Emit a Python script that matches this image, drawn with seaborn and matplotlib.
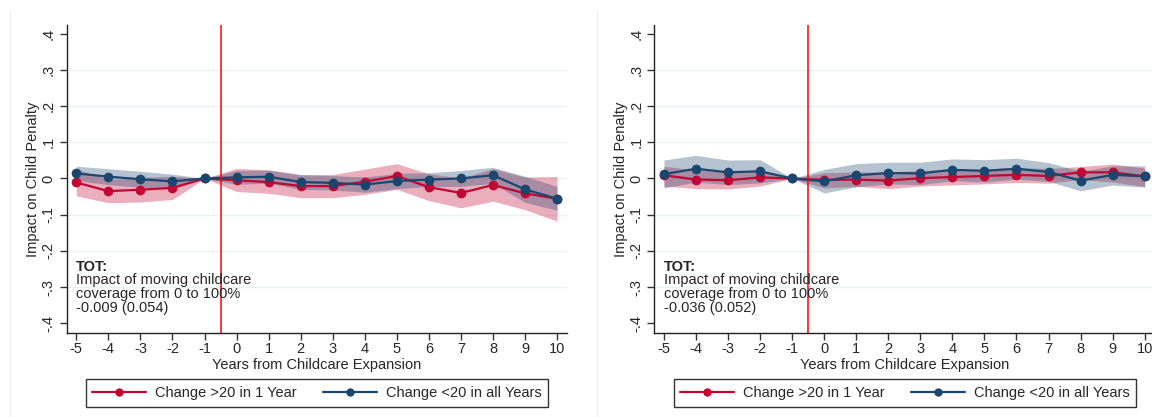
import numpy as np
import pandas as pd
import seaborn as sns
import matplotlib.pyplot as plt
from matplotlib.lines import Line2D

# %% data
years = list(range(-5, 11))
groups = ['Change >20 in 1 Year', 'Change <20 in all Years']

# left panel
left_red = [-0.011, -0.035, -0.031, -0.026, 0, -0.005, -0.010, -0.021, -0.021, -0.009, 0.007, -0.024, -0.040, -0.018, -0.041, -0.056]
left_red_lo = [-0.048, -0.067, -0.065, -0.058, 0, -0.036, -0.041, -0.053, -0.053, -0.044, -0.030, -0.061, -0.081, -0.063, -0.086, -0.118]
left_red_hi = [0.026, -0.003, 0.003, 0.006, 0, 0.028, 0.024, 0.011, 0.011, 0.026, 0.041, 0.013, 0.001, 0.027, 0.004, 0.005]
left_blue = [0.014, 0.005, -0.002, -0.008, 0, 0.003, 0.005, -0.010, -0.012, -0.017, -0.007, -0.003, 0.000, 0.009, -0.030, -0.056]
left_blue_lo = [-0.006, -0.017, -0.024, -0.028, 0, -0.016, -0.013, -0.030, -0.032, -0.038, -0.028, -0.022, -0.022, -0.013, -0.066, -0.088]
left_blue_hi = [0.034, 0.027, 0.020, 0.012, 0, 0.022, 0.023, 0.010, 0.008, 0.004, 0.014, 0.016, 0.022, 0.031, 0.006, -0.022]
left_tot = '-0.009 (0.054)'

# right panel
right_red = [0.009, -0.003, -0.005, 0.003, 0, -0.004, -0.003, -0.006, 0.001, 0.004, 0.007, 0.010, 0.007, 0.017, 0.017, 0.006]
right_red_lo = [-0.021, -0.028, -0.029, -0.021, 0, -0.026, -0.022, -0.028, -0.021, -0.018, -0.015, -0.011, -0.013, -0.003, -0.010, -0.022]
right_red_hi = [0.034, 0.023, 0.020, 0.023, 0, 0.016, 0.018, 0.018, 0.022, 0.025, 0.027, 0.030, 0.028, 0.033, 0.040, 0.029]
right_blue = [0.012, 0.027, 0.017, 0.020, 0, -0.008, 0.009, 0.015, 0.014, 0.024, 0.021, 0.027, 0.018, -0.006, 0.010, 0.006]
right_blue_lo = [-0.026, -0.010, -0.017, -0.012, 0, -0.040, -0.023, -0.015, -0.017, -0.006, -0.010, -0.002, -0.008, -0.034, -0.018, -0.024]
right_blue_hi = [0.051, 0.064, 0.051, 0.052, 0, 0.025, 0.041, 0.045, 0.045, 0.054, 0.052, 0.056, 0.044, 0.020, 0.035, 0.035]
right_tot = '-0.036 (0.052)'

yticks = [-0.4, -0.3, -0.2, -0.1, 0, 0.1, 0.2, 0.3, 0.4]
ytick_labels = ['-.4', '-.3', '-.2', '-.1', '0', '.1', '.2', '.3', '.4']

# %% style
sns.set_style('white')
plt.rcParams['font.family'] = ['Liberation Sans', 'DejaVu Sans']
RED = '#c10534'
BLUE = '#1a476f'
palette = {groups[0]: RED, groups[1]: BLUE}
FS = 10.5

fig = plt.figure(figsize=(11.52, 4.17), dpi=100)
ax_l = fig.add_axes([0.0579, 0.2022, 0.434, 0.7378])
ax_r = fig.add_axes([0.568, 0.2022, 0.434, 0.7378])


def draw_panel(ax, red, red_lo, red_hi, blue, blue_lo, blue_hi, tot):
    ax.fill_between(years, red_lo, red_hi, color=RED, alpha=0.32, lw=0)
    ax.fill_between(years, blue_lo, blue_hi, color=BLUE, alpha=0.32, lw=0)
    df = pd.DataFrame({'year': years * 2,
                       'est': red + blue,
                       'group': [groups[0]] * len(years) + [groups[1]] * len(years)})
    sns.lineplot(data=df, x='year', y='est', hue='group', hue_order=groups,
                 palette=palette, marker='o', markersize=7, markeredgewidth=0,
                 linewidth=1.6, errorbar=None, legend=False, ax=ax)
    ax.axvline(-0.5, color='red', lw=1.1)
    ax.set_xlim(-5.3, 10.3)
    ax.set_ylim(-0.426, 0.424)
    ax.set_xticks(years)
    ax.set_xticklabels([str(y) for y in years], fontsize=FS)
    ax.set_yticks(yticks)
    ax.set_yticklabels(ytick_labels, fontsize=FS, rotation=90, va='center')
    for v in yticks[1:-1]:
        ax.axhline(v, color='#eaf2f3', lw=1, zorder=0)
    ax.tick_params(axis='both', direction='out', length=5, width=1, color='#333333',
                   left=True, bottom=True)
    ax.tick_params(axis='y', pad=3)
    ax.tick_params(axis='x', pad=2)
    for s in ['top', 'right']:
        ax.spines[s].set_visible(False)
    for s in ['left', 'bottom']:
        ax.spines[s].set_color('#222222')
        ax.spines[s].set_linewidth(1)
    ax.set_xlabel('Years from Childcare Expansion', fontsize=FS, labelpad=1)
    ax.set_ylabel('Impact on Child Penalty', fontsize=FS, labelpad=1)
    ax.text(-5, -0.224, 'TOT:', fontsize=FS, fontweight='bold', va='top', ha='left')
    ax.text(-5, -0.262, 'Impact of moving childcare\ncoverage from 0 to 100%\n' + tot,
            fontsize=FS, va='top', ha='left', linespacing=1.0)


draw_panel(ax_l, left_red, left_red_lo, left_red_hi,
           left_blue, left_blue_lo, left_blue_hi, left_tot)
draw_panel(ax_r, right_red, right_red_lo, right_red_hi,
           right_blue, right_blue_lo, right_blue_hi, right_tot)

handles = [Line2D([], [], color=RED, marker='o', markersize=6, lw=1.6, markeredgewidth=0),
           Line2D([], [], color=BLUE, marker='o', markersize=6, lw=1.6, markeredgewidth=0)]
for cx in [0.275, 0.7856]:
    leg = fig.legend(handles, groups, loc='center', bbox_to_anchor=(cx, 0.0576),
                     ncol=2, fontsize=FS, frameon=True, fancybox=False,
                     handlelength=3.7, columnspacing=1.8, handletextpad=0.6,
                     borderpad=0.45)
    leg.get_frame().set_edgecolor('black')
    leg.get_frame().set_linewidth(1)

# faint panel separators
for x in [10 / 1152, 597 / 1152]:
    fig.add_artist(Line2D([x, x], [0, 1 - 10 / 417], color='#eeeeee', lw=1))

fig.savefig('out.png', dpi=100)
